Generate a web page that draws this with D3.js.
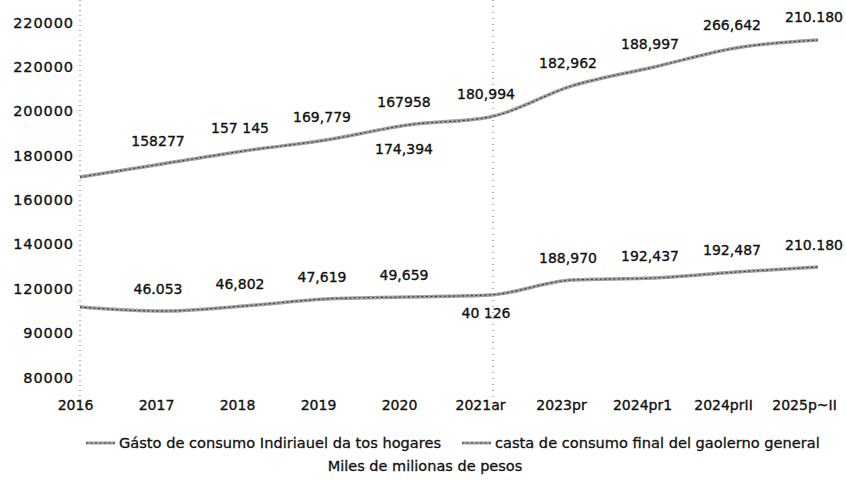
<!DOCTYPE html>
<html>
<head>
<meta charset="utf-8">
<script src="https://cdn.jsdelivr.net/npm/d3@7"></script>
<style>
  html, body { margin: 0; padding: 0; background: #fff; }
  svg { display: block; font-family: "DejaVu Sans", sans-serif; }
  .lbl { font-size: 14px; fill: #111; stroke: #111; stroke-width: 0.35px; }
  .tick text { fill: #111; stroke: #111; stroke-width: 0.35px; }
</style>
</head>
<body>
<svg id="chart" width="846" height="480"></svg>
<script>
// ---------- Data ----------
const categories = ["2016", "2017", "2018", "2019", "2020", "2021ar", "2023pr", "2024pr1", "2024prII", "2025p~II"];

// Gasto de consumo de los hogares (position on the axis)
const hogares = [170100, 176000, 181900, 186800, 193600, 197200, 211200, 219700, 228300, 231900];
// Gasto de consumo del gobierno general
const gobierno = [111500, 109700, 112000, 115200, 116100, 117000, 123700, 124600, 127300, 129600];

// value labels as printed on the chart
const hogaresLabels = [null, "158277", "157 145", "169,779", "167958", "180,994", "182,962", "188,997", "266,642", "210.180"];
const hogaresLabelsBelow = [null, null, null, null, "174,394", null, null, null, null, null];
const gobiernoLabels = [null, "46.053", "46,802", "47,619", "49,659", null, "188,970", "192,437", "192,487", "210.180"];
const gobiernoLabelsBelow = [null, null, null, null, null, "40 126", null, null, null, null];

const yTickValues = [80000, 100000, 120000, 140000, 160000, 180000, 200000, 220000, 240000];
const yTickLabels = ["80000", "90000", "120000", "140000", "160000", "180000", "200000", "220000", "220000"];

const seriesNames = ["Gásto de consumo Indiriauel da tos hogares", "casta de consumo final del gaolerno general"];
const unitsCaption = "Miles de milionas de pesos";

// ---------- Layout ----------
const svg = d3.select("#chart");
const W = 846, H = 480;

const x = d3.scalePoint().domain(categories).range([80, 818]);
const xLab = x.copy().range([75, 804]); // tick labels sit a little left of the points
const y = d3.scaleLinear().domain([80000, 240000]).range([377, 22]);

// ---------- Dotted guide lines ----------
svg.append("line")
  .attr("x1", 80).attr("x2", 80).attr("y1", 0).attr("y2", 398)
  .attr("stroke", "#666").attr("stroke-width", 1).attr("stroke-dasharray", "1,4");
svg.append("line")
  .attr("x1", x("2021ar") + 3).attr("x2", x("2021ar") + 3).attr("y1", 0).attr("y2", 398)
  .attr("stroke", "#666").attr("stroke-width", 1).attr("stroke-dasharray", "1,5");

// ---------- Axes ----------
const yAxis = d3.axisLeft(y)
  .tickValues(yTickValues)
  .tickFormat((d, i) => yTickLabels[i])
  .tickSize(0).tickPadding(6);
const yAxisG = svg.append("g").attr("transform", "translate(80,0)").call(yAxis);
yAxisG.select(".domain").remove();
yAxisG.selectAll("text")
  .attr("font-family", "DejaVu Sans").attr("font-size", 14.5)
  .attr("letter-spacing", 0.9).attr("dy", "0.35em");

const xAxis = d3.axisBottom(xLab).tickSize(0).tickPadding(0);
const xAxisG = svg.append("g").attr("transform", "translate(0,397)").call(xAxis);
xAxisG.select(".domain").remove();
xAxisG.selectAll("text")
  .attr("font-family", "DejaVu Sans").attr("font-size", 14)
  .attr("dy", "0.9em");

// ---------- Lines ----------
const line = d3.line()
  .x((d, i) => x(categories[i]))
  .y(d => y(d))
  .curve(d3.curveMonotoneX);

function drawSeries(values) {
  svg.append("path").datum(values)
    .attr("fill", "none").attr("stroke", "#a0a0a0").attr("stroke-width", 3.5)
    .attr("d", line);
  svg.append("path").datum(values)
    .attr("fill", "none").attr("stroke", "#3a3a3a").attr("stroke-width", 1.1)
    .attr("stroke-dasharray", "2,2.5")
    .attr("d", line);
}
drawSeries(hogares);
drawSeries(gobierno);

// ---------- Value labels ----------
function drawLabels(values, labels, dy) {
  svg.append("g").selectAll("text")
    .data(labels.map((t, i) => ({ t, i })).filter(d => d.t))
    .join("text")
    .attr("class", "lbl")
    .attr("text-anchor", "middle")
    .attr("x", d => x(categories[d.i]) - 4)
    .attr("y", d => y(values[d.i]) + dy)
    .text(d => d.t);
}
drawLabels(hogares, hogaresLabels, -18);
drawLabels(hogares, hogaresLabelsBelow, 29);
drawLabels(gobierno, gobiernoLabels, -17);
drawLabels(gobierno, gobiernoLabelsBelow, 23);

// ---------- Legend ----------
const legend = [
  { name: seriesNames[0], x0: 86 },
  { name: seriesNames[1], x0: 462 }
];
const lg = svg.append("g");
legend.forEach(d => {
  lg.append("line")
    .attr("x1", d.x0).attr("x2", d.x0 + 29).attr("y1", 443).attr("y2", 443)
    .attr("stroke", "#a0a0a0").attr("stroke-width", 3);
  lg.append("line")
    .attr("x1", d.x0).attr("x2", d.x0 + 29).attr("y1", 443).attr("y2", 443)
    .attr("stroke", "#3a3a3a").attr("stroke-width", 1).attr("stroke-dasharray", "2,2.5");
  lg.append("text")
    .attr("x", d.x0 + 33).attr("y", 448)
    .attr("font-size", 14.6).attr("fill", "#111")
    .attr("stroke", "#111").attr("stroke-width", 0.3)
    .text(d.name);
});

svg.append("text")
  .attr("x", 425).attr("y", 471)
  .attr("text-anchor", "middle")
  .attr("font-size", 14.5).attr("fill", "#111")
  .attr("stroke", "#111").attr("stroke-width", 0.3)
  .text(unitsCaption);
</script>
</body>
</html>
